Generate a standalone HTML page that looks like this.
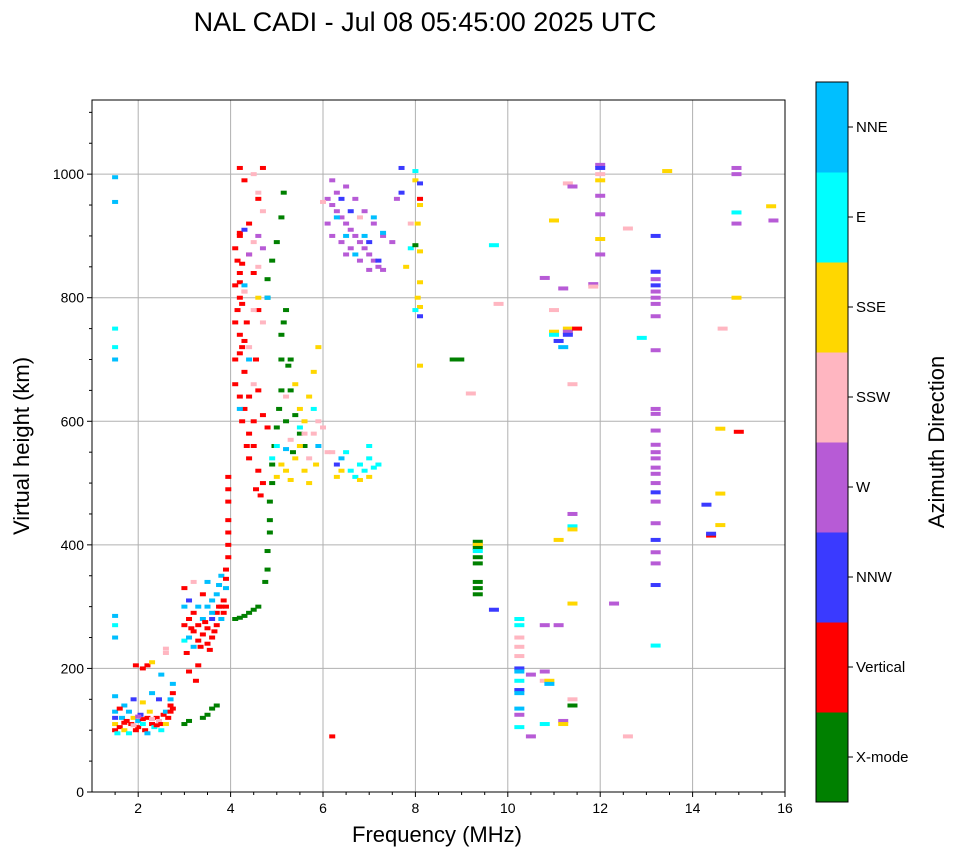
<!DOCTYPE html>
<html><head><meta charset="utf-8"><style>
body{margin:0;background:#fff;font-family:"Liberation Sans","DejaVu Sans",sans-serif}
svg text{font-family:"Liberation Sans","DejaVu Sans",sans-serif;fill:#000}
</style></head><body>
<svg id="chart" width="958" height="857" viewBox="0 0 958 857">
<text x="425" y="31" font-size="27" text-anchor="middle">NAL CADI - Jul 08 05:45:00 2025 UTC</text>
<g id="grid"></g>
<g id="marks"></g>
<rect x="92" y="100" width="693" height="692" fill="none" stroke="#000" stroke-width="1"/>
<g id="axes"></g>
<text x="437" y="842" font-size="22" text-anchor="middle">Frequency (MHz)</text>
<text transform="translate(29,446) rotate(-90)" font-size="22" text-anchor="middle">Virtual height (km)</text>
<g id="cbar"></g>
<text transform="translate(944,442) rotate(-90)" font-size="22" text-anchor="middle">Azimuth Direction</text>
</svg>
<script>
const directions=["X-mode","Vertical","NNW","W","SSW","SSE","E","NNE"];
const dirColors=["#008000","#ff0000","#3a3aff","#b75bd6","#ffb6c1","#ffd700","#00ffff","#00bfff"];
const xTicks=[2,4,6,8,10,12,14,16];
const yTicks=[0,200,400,600,800,1000];
const freqs=[],heights=[],dirs=[];
const pts=[
[1.5,100,1],[1.5,110,5],[1.55,95,6],[1.6,105,1],[1.65,120,7],[1.7,100,5],[1.75,115,1],[1.8,130,7],[1.8,95,6],[1.85,110,1],[1.9,120,5],[1.95,100,1],[2.0,115,7],[2.0,105,1],[2.05,125,2],[2.1,110,6],[2.15,100,1],[2.2,120,1],[2.2,95,7],[2.25,130,5],[2.3,110,1],[2.35,105,6],[2.4,120,1],[2.45,115,4],[2.5,110,1],[2.55,125,1],[2.6,130,7],[2.65,120,1],[2.7,140,1],[2.7,150,7],[2.75,160,1],[2.75,175,7],[2.45,150,2],[2.3,160,7],[2.1,145,5],[1.9,150,2],[1.7,140,7],[1.5,155,7],[1.5,130,7],[1.5,120,2],[1.6,135,1],[2.5,100,6],[2.6,110,5],[2.2,205,1],[1.95,205,1],[2.3,210,5],[2.6,225,4],[2.6,232,4],[2.1,200,1],[2.5,190,7],
[1.7,112,1],[1.9,108,4],[2.1,118,1],[2.3,118,4],[2.7,130,1],[2.75,135,1],[2.4,108,1],[2.0,122,3],
[1.5,995,7],[1.5,955,7],[1.5,750,6],[1.5,720,6],[1.5,700,7],[1.5,285,7],[1.5,270,6],[1.5,250,7],
[3.0,330,1],[3.0,300,7],[3.0,270,1],[3.0,245,6],[3.05,225,1],[3.1,280,1],[3.1,250,7],[3.1,310,2],[3.2,290,1],[3.2,260,1],[3.2,235,7],[3.3,270,1],[3.3,300,7],[3.3,245,1],[3.3,205,1],[3.4,280,7],[3.4,255,1],[3.4,320,1],[3.5,300,7],[3.5,265,1],[3.5,240,1],[3.6,310,7],[3.6,280,2],[3.6,250,1],[3.7,320,7],[3.7,290,1],[3.7,270,1],[3.8,350,7],[3.8,300,1],[3.8,280,7],[3.9,360,1],[3.9,330,7],[3.9,300,1],[3.95,380,1],[3.95,400,1],[3.95,420,1],[3.95,440,1],[3.95,470,1],[3.95,490,1],[3.95,510,1],[3.5,340,7],[3.2,340,4],[3.6,290,7],[3.1,195,1],[3.25,180,1],[3.45,275,1],[3.55,230,1],[3.75,300,1],[3.85,310,1],
[3.15,265,1],[3.35,235,1],[3.65,260,1],[3.85,290,1],[3.9,345,1],[3.75,335,7],
[3.0,110,0],[3.1,115,0],[3.4,120,0],[3.5,125,0],[3.6,135,0],[3.7,140,0],
[4.1,280,0],[4.2,282,0],[4.3,285,0],[4.4,290,0],[4.5,295,0],[4.6,300,0],[4.75,340,0],[4.8,360,0],[4.8,390,0],[4.85,420,0],[4.85,440,0],[4.85,470,0],[4.9,500,0],[4.9,530,0],[4.95,560,0],[5.0,590,0],[5.05,620,0],[5.1,650,0],[5.1,700,0],[5.1,740,0],[5.15,760,0],[5.2,780,0],[4.8,800,0],[4.8,830,0],[4.9,860,0],[5.0,890,0],[5.1,930,0],[5.15,970,0],[5.3,700,0],[5.3,650,0],[5.4,610,0],[5.5,580,0],[5.35,550,0],[5.6,560,0],[5.2,600,0],[5.25,690,0],
[4.2,1010,1],[4.3,990,1],[4.2,900,1],[4.1,880,1],[4.15,860,1],[4.2,840,1],[4.1,820,1],[4.2,800,1],[4.15,780,1],[4.1,760,1],[4.2,740,1],[4.25,720,1],[4.1,700,1],[4.3,680,1],[4.1,660,1],[4.2,640,1],[4.3,620,1],[4.25,600,1],[4.4,580,1],[4.5,560,1],[4.4,540,1],[4.6,520,1],[4.7,500,1],[4.65,480,1],[4.4,920,1],[4.6,960,1],[4.7,1010,1],[4.5,840,1],[4.6,780,1],[4.55,700,1],[4.6,650,1],[4.7,610,1],[4.8,590,1],[4.4,870,1],[4.35,760,1],
[4.2,905,1],[4.25,855,1],[4.2,825,1],[4.3,810,1],[4.25,790,1],[4.2,710,1],[4.3,730,1],[4.4,640,1],[4.5,600,1],[4.55,490,1],[4.35,560,1],
[4.5,1000,4],[4.6,970,4],[4.7,940,4],[4.5,890,4],[4.6,850,4],[4.5,780,4],[4.3,810,4],[4.7,760,4],[4.4,720,4],[4.5,660,4],[4.3,910,2],[4.4,870,3],[4.6,900,3],[4.7,880,3],[4.3,820,7],[4.4,700,7],[4.2,620,7],[4.8,800,7],[4.6,800,5],
[5.0,510,5],[5.1,530,5],[5.2,520,5],[5.3,505,5],[5.4,540,5],[5.5,560,5],[5.6,600,5],[5.7,640,5],[5.8,680,5],[5.9,720,5],[5.5,620,5],[5.4,660,5],[5.6,520,5],[5.7,540,4],[5.8,580,4],[5.9,600,4],[6.0,590,4],[5.6,580,4],[5.3,570,4],[5.2,640,4],[4.9,540,6],[5.0,560,6],[5.5,590,6],[5.8,620,6],[5.9,560,7],[5.7,500,5],[5.85,530,5],[5.2,555,7],
[6.3,510,5],[6.4,520,5],[6.3,530,2],[6.6,520,6],[6.8,530,6],[6.9,520,6],[7.0,540,6],[7.1,525,6],[7.2,530,6],[6.5,550,6],[6.7,510,6],[7.0,560,6],[6.4,540,7],[7.0,510,5],[6.8,505,5],[6.1,550,4],[6.2,550,4],
[6.1,960,3],[6.2,950,3],[6.3,940,3],[6.4,930,3],[6.5,920,3],[6.6,910,3],[6.7,900,3],[6.8,890,3],[6.9,880,3],[7.0,870,3],[7.1,860,3],[7.2,850,3],[7.3,845,3],[6.2,900,3],[6.4,890,3],[6.6,880,3],[6.8,860,3],[7.0,845,3],[6.1,920,3],[6.3,970,3],[6.5,980,3],[6.7,960,3],[6.9,940,3],[7.1,920,3],[7.3,900,3],[7.5,890,3],[6.2,990,3],[7.6,960,3],[6.5,870,3],[6.3,930,7],[6.5,900,7],[6.7,870,7],[6.9,900,7],[7.1,930,7],[7.3,905,7],[6.4,960,2],[6.6,940,2],[7.0,890,2],[7.2,860,2],[7.7,970,2],[6.0,955,4],[6.8,930,4],[7.9,880,6],[7.8,850,5],[7.9,920,4],[7.7,1010,2],
[8.0,990,5],[8.1,950,5],[8.05,920,5],[8.1,875,5],[8.1,825,5],[8.05,800,5],[8.1,785,5],[8.1,690,5],[8.0,780,6],[8.1,770,2],[8.1,985,2],[8.0,1005,6],[8.1,960,1],[8.0,885,0],
[8.85,700,0],[8.95,700,0],
[9.35,405,0],[9.35,400,5],[9.35,395,0],[9.35,390,6],[9.35,380,0],[9.35,370,0],[9.35,340,0],[9.35,330,0],[9.35,320,0],[9.2,645,4],[9.7,885,6],[9.7,295,2],[9.8,790,4],
[10.25,280,6],[10.25,270,6],[10.25,250,4],[10.25,235,4],[10.25,220,4],[10.25,200,2],[10.25,195,7],[10.25,180,6],[10.25,165,2],[10.25,160,7],[10.25,135,7],[10.25,125,3],[10.25,105,6],[10.5,90,3],[10.5,190,3],[10.8,195,3],[10.8,180,4],[10.9,180,5],[10.9,175,7],[10.8,110,6],[10.8,832,3],[10.8,270,3],[11.1,270,3],[11.0,925,5],
[11.0,745,5],[11.0,740,6],[11.1,730,2],[11.2,720,7],[11.3,750,5],[11.3,745,3],[11.3,740,2],[11.5,750,1],[11.2,815,3],[11.0,780,4],[11.4,660,4],[11.4,450,3],[11.4,430,6],[11.4,425,5],[11.1,408,5],[11.4,305,5],[11.4,150,4],[11.4,140,0],[11.2,115,3],[11.2,110,5],[11.3,985,4],[11.4,980,3],
[12.0,1015,3],[12.0,1010,2],[12.0,1000,4],[12.0,990,5],[12.0,965,3],[12.0,935,3],[12.0,895,5],[12.0,870,3],[11.85,822,3],[11.85,818,4],[12.6,912,4],[12.3,305,3],[12.6,90,4],
[13.2,900,2],[13.2,842,2],[13.2,830,3],[13.2,820,2],[13.2,810,3],[13.2,800,3],[13.2,790,3],[13.2,770,3],[13.2,715,3],[13.2,620,3],[13.2,612,3],[13.2,585,3],[13.2,562,3],[13.2,550,3],[13.2,540,3],[13.2,525,3],[13.2,515,3],[13.2,500,3],[13.2,485,2],[13.2,470,3],[13.2,435,3],[13.2,408,2],[13.2,388,3],[13.2,370,3],[13.2,335,2],[13.2,237,6],[12.9,735,6],[13.45,1005,5],
[14.3,465,2],[14.4,415,1],[14.4,418,2],[14.6,483,5],[14.6,432,5],[14.6,588,5],[14.65,750,4],[14.95,1010,3],[14.95,1000,3],[14.95,938,6],[14.95,920,3],[14.95,800,5],[15.0,583,1],[15.7,948,5],[15.75,925,3],
[6.2,90,1]
];
pts.forEach(p=>{freqs.push(p[0]);heights.push(p[1]);dirs.push(p[2]);});

const NS="http://www.w3.org/2000/svg";
const X0=92,X1=785,Y0=792,Y1=100,FMIN=1,FMAX=16,HMAX=1120;
const xs=f=>X0+(f-FMIN)/(FMAX-FMIN)*(X1-X0);
const ys=h=>Y0-h/HMAX*(Y0-Y1);
function mk(tag,attrs,parent){const e=document.createElementNS(NS,tag);for(const k in attrs)e.setAttribute(k,attrs[k]);parent.appendChild(e);return e;}
const grid=document.getElementById('grid'),axes=document.getElementById('axes'),marks=document.getElementById('marks'),cbar=document.getElementById('cbar');

xTicks.forEach(t=>{
  const x=xs(t);
  if(t<FMAX){const g=mk('line',{x1:x,x2:x,y1:Y1,y2:Y0,stroke:'#b0b0b0','stroke-width':1},grid);
  
  }
  mk('line',{x1:x,x2:x,y1:Y0,y2:Y0+5,stroke:'#000'},axes);
  const tx=mk('text',{x:x,y:Y0+21,'font-size':14,'text-anchor':'middle'},axes);
  tx.textContent=t;
  
  
});
for(let f=1.5;f<FMAX;f+=0.5){if(Number.isInteger(f/2))continue;const x=xs(f);mk('line',{x1:x,x2:x,y1:Y0,y2:Y0+3,stroke:'#000'},axes);}
yTicks.forEach(t=>{
  const y=ys(t);
  if(t>0){const g=mk('line',{x1:X0,x2:X1,y1:y,y2:y,stroke:'#b0b0b0','stroke-width':1},grid);
  
  }
  mk('line',{x1:X0-5,x2:X0,y1:y,y2:y,stroke:'#000'},axes);
  const tx=mk('text',{x:X0-8,y:y+5,'font-size':14,'text-anchor':'end'},axes);
  tx.textContent=t;
  
  
});
for(let h=50;h<HMAX;h+=50){if(h%200===0)continue;const y=ys(h);mk('line',{x1:X0-3,x2:X0,y1:y,y2:y,stroke:'#000'},axes);}

freqs.forEach((f,i)=>{
  const w=f>8.5?10:6;
  const r=mk('rect',{x:xs(f)-w/2,y:ys(heights[i])-2,width:w,height:4,fill:dirColors[dirs[i]]},marks);
  
  
});

const CX=816,CW=32,CT=82,CB=802,seg=(CB-CT)/directions.length;
directions.forEach((d,i)=>{
  const y=CB-(i+1)*seg;
  const r=mk('rect',{x:CX,y:y,width:CW,height:seg+0.5,fill:dirColors[i]},cbar);
  
  
  mk('line',{x1:CX+CW,x2:CX+CW+5,y1:y+seg/2,y2:y+seg/2,stroke:'#000'},cbar);
  const t=mk('text',{x:CX+CW+8,y:y+seg/2+5,'font-size':15},cbar);
  t.textContent=d;
  
  
});
mk('rect',{x:CX,y:CT,width:CW,height:CB-CT,fill:'none',stroke:'#000'},cbar);
</script>
</body></html>
